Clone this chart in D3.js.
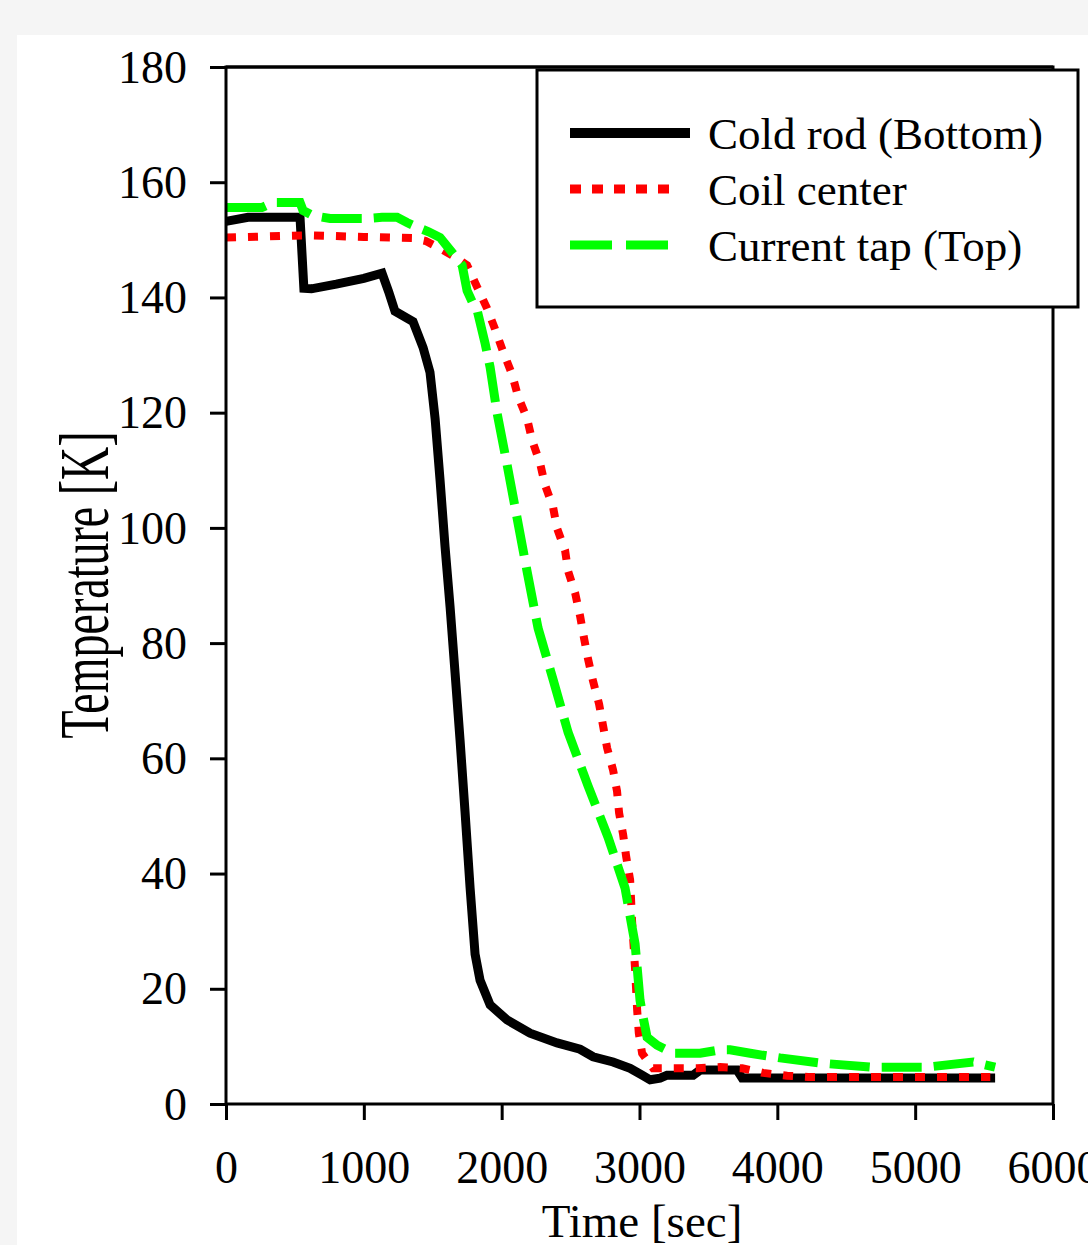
<!DOCTYPE html>
<html>
<head>
<meta charset="utf-8">
<script src="https://cdn.jsdelivr.net/npm/d3@7"></script>
<style>
  html, body { margin: 0; padding: 0; background: #f5f5f5; }
  svg { display: block; }
  text { font-family: "Liberation Serif", "Times New Roman", serif; fill: #000; }
</style>
</head>
<body>
<svg id="chart" width="1088" height="1245"></svg>
<script>
// Cold rod (Bottom)
const coldTime = [0, 160, 537, 565, 620, 800, 1000, 1132, 1180, 1226, 1357, 1430, 1480, 1517, 1553, 1589, 1626, 1662, 1698, 1734, 1771, 1807, 1843, 1916, 2039, 2206, 2402, 2569, 2663, 2808, 2932, 3019, 3077, 3149, 3200, 3389, 3440, 3708, 3745, 5580];
const coldTemp = [153.2, 153.9, 153.9, 141.6, 141.5, 142.3, 143.3, 144.2, 141, 137.6, 135.8, 131.3, 127, 119, 108.3, 96.8, 86.2, 74.8, 63.2, 50.8, 37.5, 26, 21.5, 17.2, 14.6, 12.3, 10.6, 9.5, 8.2, 7.3, 6.2, 5.0, 4.2, 4.5, 5.0, 5.0, 5.9, 5.9, 4.5, 4.5];

// Coil center
const coilTime = [0, 600, 1000, 1350, 1450, 1553, 1650, 1749, 1822, 1894, 1952, 2010, 2075, 2119, 2184, 2221, 2279, 2315, 2373, 2402, 2460, 2482, 2533, 2569, 2598, 2627, 2663, 2707, 2736, 2765, 2808, 2837, 2852, 2881, 2903, 2932, 2946, 2968, 2983, 2995, 3019, 3099, 3258, 3418, 3585, 3745, 3897, 4071, 4223, 5545];
const coilTemp = [150.4, 150.8, 150.5, 150.3, 149.8, 148.5, 147.2, 145.6, 141.8, 138.1, 134.5, 130.6, 126.7, 122.8, 119, 115.2, 111.2, 107.4, 103.6, 99.9, 96.1, 92.5, 88.7, 84.7, 80.8, 77.2, 73.4, 69.4, 65.6, 61.8, 58, 54.3, 50.5, 46.8, 43, 38.9, 31.8, 23.4, 16.3, 12.3, 8.8, 6.2, 6.2, 6.2, 6.4, 6.2, 5.4, 4.9, 4.7, 4.7];

// Current tap (Top)
const tapTime = [0, 260, 341, 537, 559, 631, 755, 1023, 1132, 1241, 1313, 1386, 1470, 1553, 1647, 1713, 1749, 1785, 1822, 1880, 1916, 1967, 2039, 2112, 2184, 2264, 2373, 2482, 2627, 2772, 2895, 2968, 3004, 3020, 3055, 3128, 3244, 3440, 3585, 3657, 3803, 4020, 4310, 4673, 5087, 5421, 5580];
const tapTemp = [155.6, 155.6, 156.5, 156.5, 155.1, 154.2, 153.7, 153.7, 153.9, 153.9, 153, 152.2, 151.4, 150.4, 147.6, 145.6, 141.2, 139.3, 137.8, 132, 127.9, 119.9, 111, 101.7, 92.5, 82.6, 73.7, 64.5, 55.2, 46.3, 37.5, 27.8, 18, 15.8, 11.6, 10.2, 8.8, 8.8, 9.4, 9.4, 8.8, 8.0, 7.1, 6.4, 6.4, 7.3, 6.4];

const xTicks = [0, 1000, 2000, 3000, 4000, 5000, 6000];
const yTicks = [0, 20, 40, 60, 80, 100, 120, 140, 160, 180];
const seriesNames = ['Cold rod (Bottom)', 'Coil center', 'Current tap (Top)'];

const svg = d3.select('#chart');

// white page area (the picture has a light grey border on top/left)
svg.append('rect').attr('x', 17).attr('y', 35).attr('width', 1071).attr('height', 1210).attr('fill', '#fff');

const x = d3.scaleLinear().domain([0, 6000]).range([226, 1053]);
const y = d3.scaleLinear().domain([0, 180]).range([1104, 67]);

const series = [
    { name: seriesNames[0], t: coldTime, v: coldTemp, color: '#000', width: 9, dash: null },
    { name: seriesNames[1], t: coilTime, v: coilTemp, color: '#ff0000', width: 8, dash: '10,12' },
    { name: seriesNames[2], t: tapTime, v: tapTemp, color: '#00ff00', width: 9, dash: '40,12' },
];

const line = d3.line().x(d => x(d[0])).y(d => y(d[1]));

const lines = svg.append('g');
series.forEach(s => {
    const pts = s.t.map((t, i) => [t, s.v[i]]);
    lines.append('path')
        .attr('d', line(pts))
        .attr('fill', 'none')
        .attr('stroke', s.color)
        .attr('stroke-width', s.width)
        .attr('stroke-linejoin', 'miter')
        .attr('stroke-dasharray', s.dash);
});

// axes
const xAxis = svg.append('g')
    .attr('transform', `translate(0,${y(0)})`)
    .call(d3.axisBottom(x).tickValues(xTicks).tickSize(16).tickSizeOuter(0).tickFormat(d3.format('d')));
const yAxis = svg.append('g')
    .attr('transform', `translate(${x(0)},0)`)
    .call(d3.axisLeft(y).tickValues(yTicks).tickSize(16).tickSizeOuter(0).tickFormat(d3.format('d')));

[xAxis, yAxis].forEach(a => {
    a.select('.domain').remove();
    a.selectAll('.tick line').attr('stroke', '#000').attr('stroke-width', 3);
    a.selectAll('.tick text')
        .style('font-family', '"Liberation Serif", serif')
        .style('font-size', '46px')
        .attr('fill', '#000');
});
xAxis.selectAll('.tick text').attr('y', 0).attr('dy', 0).attr('transform', 'translate(0,79)');
yAxis.selectAll('.tick text').attr('x', -39).attr('dy', '0.33em');

// plot frame
svg.append('rect')
    .attr('x', x(0)).attr('y', y(180))
    .attr('width', x(6000) - x(0)).attr('height', y(0) - y(180))
    .attr('fill', 'none').attr('stroke', '#000').attr('stroke-width', 3);

// legend
const leg = svg.append('g');
leg.append('rect')
    .attr('x', 537).attr('y', 70).attr('width', 541).attr('height', 237)
    .attr('fill', '#fff').attr('stroke', '#000').attr('stroke-width', 3);
// top axis line runs over the legend border
svg.append('line').attr('x1', x(0)).attr('x2', x(6000)).attr('y1', y(180)).attr('y2', y(180))
    .attr('stroke', '#000').attr('stroke-width', 3);

const legLen = [120, 102, 98];
const legDash = [null, '11,11', '42,14'];
series.forEach((s, i) => {
    const ly = 133 + i * 56;
    leg.append('line')
        .attr('x1', 570).attr('x2', 570 + legLen[i])
        .attr('y1', ly).attr('y2', ly)
        .attr('stroke', s.color)
        .attr('stroke-width', i === 0 ? 10 : 9)
        .attr('stroke-dasharray', legDash[i]);
    leg.append('text')
        .attr('x', 708).attr('y', ly + 16)
        .style('font-size', '45px')
        .text(s.name);
});

// axis titles
svg.append('text')
    .attr('x', 642).attr('y', 1237)
    .attr('text-anchor', 'middle')
    .style('font-size', '47px')
    .text('Time [sec]');
svg.append('text')
    .attr('transform', 'translate(108,585) rotate(-90) scale(1,1.5)')
    .attr('text-anchor', 'middle')
    .style('font-size', '46px')
    .text('Temperature [K]');
</script>
</body>
</html>
